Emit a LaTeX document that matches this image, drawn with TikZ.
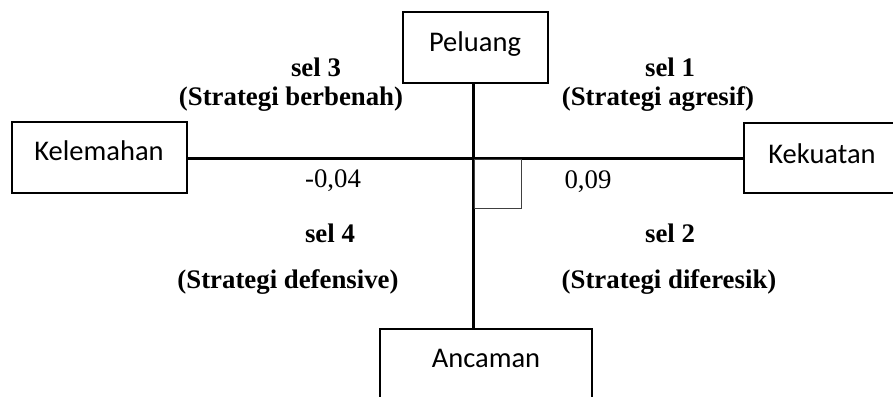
\documentclass[tikz,border=0pt]{standalone}
\usepackage{fontspec}
\setmainfont{Liberation Serif}
\newfontfamily\boxfont{Carlito}
\begin{document}
\begin{tikzpicture}[x=1pt,y=-1pt,
  boxn/.style={draw, line width=1.3pt, inner sep=0pt, outer sep=0pt},
  boxtxt/.style={anchor=base, inner sep=0pt, font=\boxfont\fontsize{28.5}{34}\selectfont},
  celltxt/.style={anchor=base, inner sep=0pt, font=\bfseries\fontsize{26.8}{32}\selectfont},
  numtxt/.style={anchor=base, inner sep=0pt, font=\fontsize{26.8}{32}\selectfont},
  axisline/.style={line width=3pt}]
\useasboundingbox (0,0) rectangle (893,396);
\clip (0,0) rectangle (893,396);
% boxes
\node[boxn, minimum width=175pt, minimum height=71pt] (kel) at (99.5,157.5) {};
\node[boxn, minimum width=145pt, minimum height=71pt] (pel) at (475.5,47.5) {};
\node[boxn, minimum width=161pt, minimum height=70pt] (kek) at (824.5,158) {};
\node[boxn, minimum width=212pt, minimum height=81pt] (anc) at (486,369.5) {};
% box texts
\node[boxtxt] (tpel) at (475,52) {Peluang};
\node[boxtxt] (tkel) at (99,160) {Kelemahan};
\node[boxtxt] (tkek) at (822,163) {Kekuatan};
\node[boxtxt] (tanc) at (486,367) {Ancaman};
% axes
\coordinate (c) at (473,158);
\draw[axisline] (kel.east |- c) -- (kek.west |- c);
\draw[axisline] (pel.south -| c) -- (anc.north -| c);
% small square
\node[draw, line width=0.9pt, draw=black!75, minimum width=47pt, minimum height=49pt, inner sep=0pt, anchor=north west] (sq) at (473.5,158.5) {};
% cell texts
\node[celltxt] (s3) at (316,76) {sel 3};
\node[celltxt] (s3b) at (291,105) {(Strategi berbenah)};
\node[celltxt] (s1) at (670,76) {sel 1};
\node[celltxt] (s1b) at (658,105) {(Strategi agresif)};
\node[celltxt] (s4) at (330,242) {sel 4};
\node[celltxt] (s4b) at (288,288) {(Strategi defensive)};
\node[celltxt] (s2) at (670,242) {sel 2};
\node[celltxt] (s2b) at (669,288) {(Strategi diferesik)};
% numbers
\node[numtxt] (n1) at (333,187) {-0,04};
\node[numtxt] (n2) at (588,188) {0,09};
\end{tikzpicture}
\end{document}
